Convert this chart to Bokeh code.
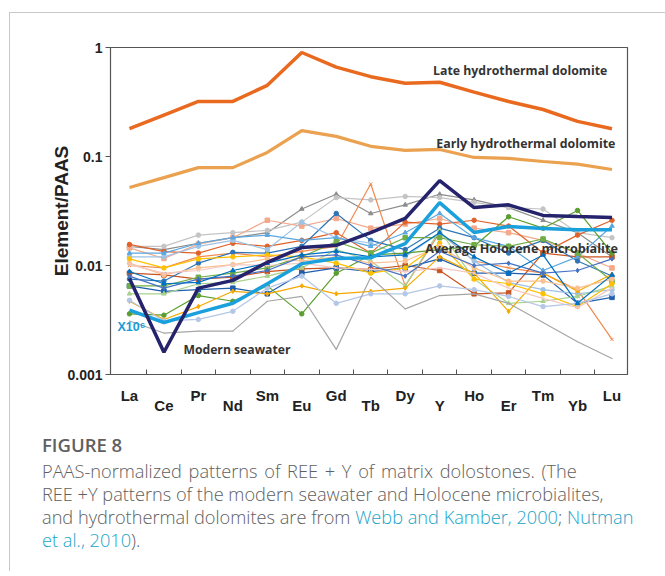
from bokeh.plotting import figure
from bokeh.models import (FixedTicker, Div, Range1d, CustomJSTickFormatter, LinearAxis)
from bokeh.layouts import column
from bokeh.core.properties import value
from bokeh.embed import file_html
from bokeh.resources import INLINE

elements = ["La", "Ce", "Pr", "Nd", "Sm", "Eu", "Gd", "Tb", "Dy", "Y", "Ho", "Er", "Tm", "Yb", "Lu"]
xs = list(range(len(elements)))

late_hydro = [0.18, 0.24, 0.32, 0.32, 0.45, 0.90, 0.66, 0.54, 0.47, 0.48, 0.39, 0.32, 0.27, 0.21, 0.18]
early_hydro = [0.052, 0.064, 0.079, 0.079, 0.109, 0.173, 0.153, 0.124, 0.114, 0.116, 0.098, 0.096, 0.090, 0.085, 0.076]
seawater = [0.0076, 0.0016, 0.0062, 0.0073, 0.0107, 0.0146, 0.0153, 0.020, 0.027, 0.060, 0.034, 0.036, 0.0288, 0.0281, 0.0276]
holocene = [0.0039, 0.0030, 0.0037, 0.0045, 0.0068, 0.0104, 0.0116, 0.0118, 0.0159, 0.0378, 0.0201, 0.0228, 0.0218, 0.0213, 0.0213]

s01 = [0.015, 0.014, 0.016, 0.018, 0.020, 0.033, 0.045, 0.030, 0.036, 0.045, 0.040, 0.034, 0.026, 0.020, 0.012]
s02 = [0.015, 0.015, 0.019, 0.020, 0.021, 0.025, 0.042, 0.040, 0.043, 0.042, 0.038, 0.034, 0.033, 0.020, 0.018]
s03 = [0.0145, 0.0116, 0.0157, 0.018, 0.026, 0.023, 0.027, 0.022, 0.024, 0.027, 0.022, 0.020, 0.017, 0.013, 0.0095]
s04 = [0.0156, 0.0134, 0.013, 0.016, 0.015, 0.017, 0.020, 0.013, 0.025, 0.024, 0.026, 0.023, 0.013, 0.019, 0.026]
s05 = [0.010, 0.0095, 0.012, 0.013, 0.012, 0.0135, 0.015, 0.056, 0.0065, 0.020, 0.011, 0.0095, 0.0085, 0.006, 0.0021]
s06 = [0.0085, 0.0082, 0.0075, 0.0078, 0.0088, 0.0093, 0.0095, 0.0092, 0.010, 0.009, 0.0055, 0.0056, 0.013, 0.012, 0.012]
s07 = [0.0075, 0.0072, 0.0105, 0.0132, 0.013, 0.015, 0.030, 0.017, 0.014, 0.022, 0.018, 0.013, 0.017, 0.011, 0.008]
s08 = [0.0065, 0.0058, 0.0060, 0.0062, 0.0055, 0.0085, 0.0095, 0.0088, 0.0095, 0.0115, 0.0085, 0.0085, 0.0082, 0.0045, 0.0051]
s09 = [0.012, 0.012, 0.015, 0.017, 0.014, 0.025, 0.018, 0.016, 0.012, 0.020, 0.011, 0.007, 0.006, 0.0055, 0.006]
s10 = [0.013, 0.013, 0.016, 0.018, 0.019, 0.017, 0.018, 0.015, 0.020, 0.030, 0.018, 0.015, 0.009, 0.012, 0.023]
s11 = [0.0036, 0.0035, 0.0053, 0.0047, 0.0065, 0.0036, 0.0085, 0.0125, 0.013, 0.014, 0.015, 0.028, 0.022, 0.032, 0.013]
s12 = [0.0065, 0.0065, 0.0078, 0.0085, 0.0095, 0.012, 0.0165, 0.013, 0.018, 0.018, 0.0155, 0.015, 0.0175, 0.013, 0.0072]
s13 = [0.0055, 0.0055, 0.0068, 0.0070, 0.008, 0.0095, 0.014, 0.011, 0.0065, 0.021, 0.0075, 0.0045, 0.0047, 0.0052, 0.0065]
s14 = [0.0047, 0.0032, 0.0042, 0.0058, 0.0055, 0.0065, 0.0055, 0.0058, 0.0062, 0.012, 0.0085, 0.0038, 0.0085, 0.0058, 0.0083]
s15 = [0.0115, 0.0095, 0.0115, 0.012, 0.0125, 0.012, 0.0105, 0.0085, 0.0095, 0.016, 0.0075, 0.0068, 0.0055, 0.0042, 0.0068]
s16 = [0.0105, 0.0082, 0.0095, 0.0102, 0.0115, 0.011, 0.012, 0.0105, 0.011, 0.015, 0.0095, 0.0072, 0.0072, 0.0062, 0.0075]
s17 = [0.0102, 0.0085, 0.0090, 0.0102, 0.010, 0.0105, 0.0095, 0.0092, 0.0088, 0.0095, 0.0085, 0.0062, 0.0050, 0.0041, 0.0062]
s18 = [0.0048, 0.0031, 0.0032, 0.0038, 0.0062, 0.0080, 0.0045, 0.0055, 0.0055, 0.0065, 0.0060, 0.0052, 0.0042, 0.0045, 0.0055]
s19 = [0.0031, 0.0024, 0.0025, 0.0025, 0.0047, 0.0052, 0.0017, 0.0078, 0.0040, 0.0053, 0.0055, 0.0045, 0.0030, 0.0020, 0.0014]
s20 = [0.0080, 0.0062, 0.0075, 0.0080, 0.0090, 0.0120, 0.0125, 0.0100, 0.0080, 0.0135, 0.0100, 0.0105, 0.0085, 0.0090, 0.0115]
s21 = [0.0088, 0.0068, 0.0070, 0.0090, 0.0105, 0.0125, 0.0135, 0.012, 0.0125, 0.020, 0.012, 0.0085, 0.0125, 0.0045, 0.0082]

samples = [s01, s02, s03, s04, s05, s06, s07, s08, s09, s10, s11, s12, s13, s14, s15, s16, s17, s18, s19, s20, s21]
sample_colors = ["#8c8c8c", "#c4c4c4", "#f4a98a", "#e0622a", "#f08a50", "#c9541e", "#2e75b6", "#1f5fad",
                 "#9dc3e6", "#5ba8e0", "#5a9e2f", "#70ad47", "#a9d18e", "#f5a800", "#ffc000", "#fac090",
                 "#f2c9c4", "#b4c7e7", "#a6a6a6", "#4472c4", "#0070c0"]
sample_markers = ["triangle", "circle", "square", "circle", "x", "square", "circle", "square",
                  "circle", "triangle", "circle", "square", "triangle", "diamond", "circle", "circle",
                  "x", "circle", "dot", "diamond", "triangle"]

p = figure(width=655, height=408, y_axis_type="log", output_backend="svg", toolbar_location=None,
           x_range=Range1d(-0.55, 14.45), y_range=Range1d(0.001, 1),
           min_border_left=100, min_border_right=38, min_border_top=34, min_border_bottom=47)
p.background_fill_color = "white"
p.border_fill_color = "white"
p.outline_line_color = "#555555"
p.outline_line_width = 1.2
p.grid.visible = False

for vals, col, mk in zip(samples, sample_colors, sample_markers):
    p.line(xs, vals, line_color=col, line_width=1.2)
    p.scatter(xs, vals, marker=mk, size=4.5, fill_color=col, line_color=col)

p.line(xs, late_hydro, line_color="#e96a1f", line_width=3.5)
p.line(xs, early_hydro, line_color="#eba250", line_width=3.2)
p.line(xs, holocene, line_color="#1aa0dc", line_width=3.5)
p.line(xs, seawater, line_color="#25236b", line_width=3.5)

ann_font = value("Open Sans")
p.text(x=[8.81], y=[0.615], text=["Late hydrothermal dolomite"], text_font=ann_font,
       text_font_size="12.3px", text_font_style="bold", text_color="#333333", text_baseline="middle")
p.text(x=[8.9], y=[0.1316], text=["Early hydrothermal dolomite"], text_font=ann_font,
       text_font_size="12.4px", text_font_style="bold", text_color="#333333", text_baseline="middle")
p.text(x=[8.58], y=[0.0143], text=["Average Holocene microbialite"], text_font=ann_font,
       text_font_size="12.6px", text_font_style="bold", text_color="#333333", text_baseline="middle")
p.text(x=[1.565], y=[0.0017], text=["Modern seawater"], text_font=ann_font,
       text_font_size="12.2px", text_font_style="bold", text_color="#333333", text_baseline="middle")
p.text(x=[-0.35], y=[0.0027], text=["X10\u2076"], text_font=value("Liberation Sans"),
       text_font_size="12.5px", text_font_style="bold", text_color="#1a9bd7", text_baseline="middle")

# y axis
ya = p.yaxis[0]
ya.ticker = FixedTicker(ticks=[0.001, 0.01, 0.1, 1], minor_ticks=[])
ya.formatter = CustomJSTickFormatter(code="return tick.toString();")
ya.major_tick_out = 5
ya.major_tick_in = 0
ya.minor_tick_out = 0
ya.minor_tick_in = 0
ya.major_label_text_font = "Liberation Sans"
ya.major_label_text_font_style = "bold"
ya.major_label_text_font_size = "14px"
ya.major_label_text_color = "#222222"
ya.major_label_standoff = 3
ya.axis_label = "Element/PAAS"
ya.axis_label_text_font = "Liberation Sans"
ya.axis_label_text_font_style = "bold"
ya.axis_label_text_font_size = "19px"
ya.axis_label_text_color = "#222222"
ya.axis_label_standoff = -8
ya.axis_line_color = "#555555"
ya.major_tick_line_color = "#555555"

# x axis: tick marks between the elements
xa = p.xaxis[0]
xa.ticker = FixedTicker(ticks=[i + 0.5 for i in range(len(elements) - 1)], minor_ticks=[])
xa.formatter = CustomJSTickFormatter(code="return '';")
xa.major_label_standoff = 0
xa.major_tick_in = 5
xa.major_tick_out = 0
xa.minor_tick_in = 0
xa.minor_tick_out = 0
xa.axis_line_color = "#555555"
xa.major_tick_line_color = "#555555"

# element labels (staggered)
overrides = {i: (e if i % 2 == 0 else "\n" + e) for i, e in enumerate(elements)}
lab_axis = LinearAxis(ticker=FixedTicker(ticks=xs, minor_ticks=[]), major_label_overrides=overrides,
                      major_tick_in=0, major_tick_out=0, minor_tick_in=0, minor_tick_out=0,
                      axis_line_color=None, major_label_standoff=12,
                      major_label_text_font="Liberation Sans", major_label_text_font_style="bold",
                      major_label_text_font_size="15px", major_label_text_color="#222222",
                      major_label_text_line_height=0.6)
p.add_layout(lab_axis, "below")

link = "color:#1aa3c8;"
cap = Div(text=(
    '<div style="font-family:\'Open Sans\', sans-serif; font-weight:300; color:#606060; font-size:18.2px; line-height:23px; white-space:nowrap;">'
    '<div style="font-weight:600; font-size:18.5px; margin-bottom:4px;">FIGURE 8</div>'
    '<span style="word-spacing:2px;">PAAS-normalized patterns of REE + Y of matrix dolostones. (The</span><br>'
    'REE +Y patterns of the modern seawater and Holocene microbialites,<br>'
    'and hydrothermal dolomites are from <span style="' + link + '">Webb and Kamber, 2000</span>; '
    '<span style="' + link + '">Nutman</span><br>'
    '<span style="' + link + '">et al., 2010</span>).'
    '</div>'),
    width=640, height=150, margin=(0, 0, 0, 0),
    styles={"padding-left": "32px", "padding-top": "12px"})

layout = column(p, cap, margin=(12, 0, 0, 9),
                styles={"border-top": "1px solid #c8c8c8", "border-left": "1px solid #c8c8c8"})

open("out.html", "w").write(file_html(layout, INLINE))
